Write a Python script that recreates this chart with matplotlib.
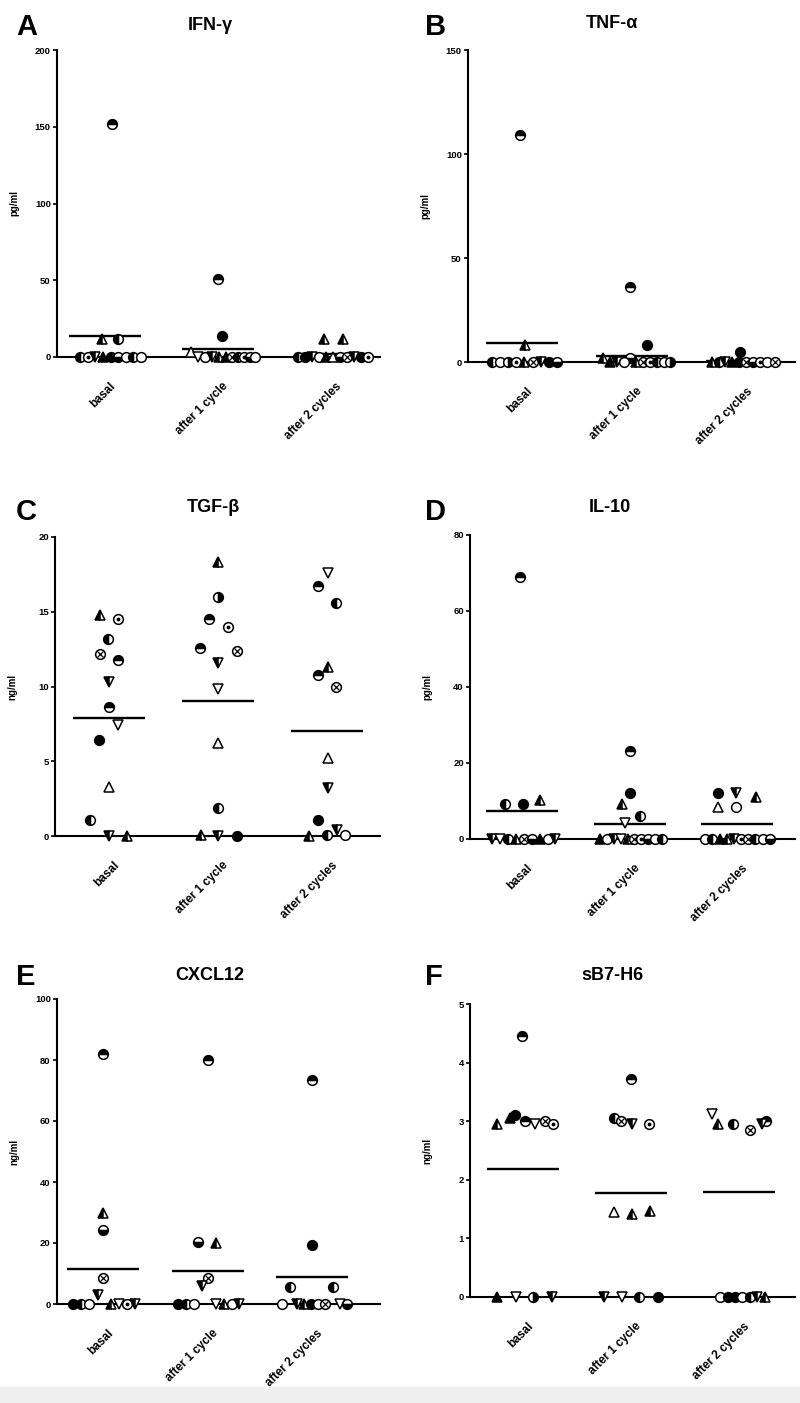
import matplotlib
matplotlib.use("Agg")
import matplotlib.pyplot as plt
from matplotlib.patches import Rectangle

plt.rcParams['font.family'] = ['Liberation Sans', 'DejaVu Sans']
plt.rcParams['font.weight'] = 'bold'

# ---------------- data ----------------
groups = ["basal", "after 1 cycle", "after 2 cycles"]

# A  IFN-gamma (pg/ml)
ifn_basal = [152, 12, 12, 0, 0, 0, 0, 0, 0, 0, 0, 0]
ifn_c1 = [51, 14, 3, 0, 0, 0, 0, 0, 0, 0, 0, 0, 0]
ifn_c2 = [12, 12, 0, 0, 0, 0, 0, 0, 0, 0, 0, 0, 0]
ifn_means = [14, 5, 2]

# B  TNF-alpha (pg/ml)
tnf_basal = [109, 8, 0, 0, 0, 0, 0, 0, 0, 0, 0]
tnf_c1 = [36, 8, 2, 2, 0, 0, 0, 0, 0, 0, 0, 0, 0]
tnf_c2 = [5, 0, 0, 0, 0, 0, 0, 0, 0, 0, 0]
tnf_means = [9, 3, 0.5]

# C  TGF-beta (ng/ml)
tgf_basal = [14.8, 14.5, 13.2, 12.2, 11.8, 10.3, 8.6, 7.4, 6.4, 3.3, 1.1, 0, 0]
tgf_c1 = [18.3, 16.0, 14.5, 14.0, 12.6, 12.4, 11.6, 9.8, 6.2, 1.9, 0.1, 0, 0]
tgf_c2 = [17.6, 16.7, 15.6, 11.3, 10.8, 10.0, 5.2, 3.2, 1.1, 0, 0.1, 0.4, 0.1]
tgf_means = [7.9, 9.0, 7.0]

# D  IL-10 (pg/ml)
il10_basal = [69, 9.1, 9.1, 10.2, 0, 0, 0, 0, 0, 0, 0, 0, 0]
il10_c1 = [23.2, 12.0, 9.1, 6.1, 4.1, 0, 0, 0, 0, 0, 0, 0, 0, 0, 0]
il10_c2 = [12.0, 12.1, 11.0, 8.4, 8.4, 0, 0, 0, 0, 0, 0, 0, 0, 0, 0]
il10_means = [7.4, 3.9, 3.9]

# E  CXCL12 (ng/ml)
cxcl_basal = [82, 29.8, 24.2, 8.4, 3, 0, 0, 0, 0, 0, 0, 0]
cxcl_c1 = [80, 20.3, 20, 8.4, 6, 0, 0, 0, 0, 0, 0, 0]
cxcl_c2 = [73.3, 19.2, 5.6, 5.6, 0, 0, 0, 0, 0, 0, 0, 0]
cxcl_means = [11.6, 10.8, 8.7]

# F  sB7-H6 (ng/ml)
sb7_basal = [4.45, 2.95, 3.05, 3.1, 3.0, 2.95, 3.0, 2.95, 0, 0, 0, 0]
sb7_c1 = [3.72, 3.05, 3.0, 2.95, 2.95, 1.45, 1.42, 1.47, 0, 0, 0, 0]
sb7_c2 = [3.12, 2.95, 2.95, 2.85, 3.0, 2.95, 0, 0, 0, 0, 0, 0, 0]
sb7_means = [2.18, 1.78, 1.80]

# ---------------- symbols (style) ----------------
ifn_sym = [['ht', 'A', 'hl', 'hl', 'd', 'V', 'T', 'f', 'hb', 'o', 'hl', 'o'],
           ['ht', 'f', '^', 'v', 'o', 'V', 'A', 'T', 'x', 'hl', 'd', 'hb', 'o'],
           ['A', 'A', 'hl', 'f', 'V', 'o', 'T', '^', 'hb', 'x', 'V', 'f', 'd']]
tnf_sym = [['ht', 'A', 'hl', 'o', 'hr', 'd', 'A', 'x', 'V', 'f', 'hb'],
           ['ht', 'f', 'A', 'hb', 'T', 'V', 'o', 'A', 'x', 'd', 'hl', 'o', 'hr'],
           ['f', 'A', 'hl', 'V', 'T', 'f', 'x', 'hb', 'd', 'o', 'x']]
tgf_sym = [['A', 'd', 'hl', 'x', 'ht', 'V', 'ht', 'v', 'f', '^', 'hl', 'V', 'A'],
           ['A', 'hr', 'ht', 'd', 'ht', 'x', 'V', 'v', '^', 'hl', 'A', 'V', 'f'],
           ['v', 'ht', 'hl', 'A', 'ht', 'x', '^', 'V', 'f', 'A', 'hl', 'V', 'o']]
il10_sym = [['ht', 'hl', 'f', 'A', 'V', 'v', 'hl', 'A', 'x', 'hb', 'T', 'o', 'V'],
            ['ht', 'f', 'A', 'hl', 'v', 'T', 'o', 'V', 'v', 'A', 'x', 'd', 'hb', 'o', 'hl'],
            ['f', 'V', 'A', '^', 'o', 'o', 'hl', 'T', 'A', 'V', 'd', 'x', 'hl', 'o', 'hb']]
cxcl_sym = [['ht', 'A', 'hb', 'x', 'V', 'f', 'hl', 'o', 'A', 'v', 'd', 'V'],
            ['ht', 'hb', 'A', 'x', 'V', 'f', 'hl', 'o', 'v', 'A', 'o', 'V'],
            ['ht', 'f', 'hl', 'hl', 'o', 'V', 'A', 'f', 'o', 'x', 'v', 'hb']]
sb7_sym = [['ht', 'A', 'T', 'f', 'ht', 'v', 'x', 'd', 'T', 'v', 'hr', 'V'],
           ['ht', 'hl', 'x', 'V', 'd', '^', 'A', 'A', 'V', 'v', 'hl', 'f'],
           ['v', 'A', 'hl', 'x', 'ht', 'V', 'o', 'f', 'f', 'o', 'hl', 'V', 'A']]

# ---------------- horizontal jitter (layout, px) ----------------
ifn_off = [[7, -3, 13, -25, -17, -10, -2, 6, 13, 21, 28, 36],
           [0, 4, -27, -20, -13, -6, 1, 8, 14, 20, 26, 32, 37],
           [-7, 12, -33, -26, -19, -12, -5, 2, 9, 16, 23, 30, 37]]
tnf_off = [[-2, 3, -30, -22, -14, -6, 2, 11, 19, 27, 35],
           [-2, 15, -29, -2, -22, -15, -8, 4, 11, 18, 25, 32, 38],
           [-2, -30, -23, -17, -10, -3, 4, 11, 18, 25, 33]]
tgf_off = [[-9, 9, -1, -9, 9, 0, 0, 9, -10, 0, -19, 0, 18],
           [0, 0, -9, 10, -18, 19, 0, 0, 0, 0, -17, 0, 19],
           [1, -9, 9, 1, -9, 9, 1, 1, -9, -18, 0, 10, 18]]
il10_off = [[-2, -17, 1, 18, -30, -22, -14, -6, 2, 10, 18, 26, 33],
            [0, 0, -8, 10, -5, -30, -23, -16, -9, -2, 4, 11, 18, 25, 32],
            [-19, -1, 19, -19, -1, -32, -25, -17, -10, -3, 4, 11, 18, 26, 33]]
cxcl_off = [[0, 0, 0, 0, -5, -30, -22, -14, 8, 16, 24, 32],
            [0, -10, 9, 0, -6, -30, -22, -14, 8, 16, 24, 32],
            [0, 0, -22, 21, -30, -15, -8, -1, 6, 13, 28, 35]]
sb7_off = [[-1, -26, -13, -8, 2, 12, 22, 30, -26, -7, 10, 29],
           [0, -17, -10, 1, 18, -17, 1, 19, -27, -9, 8, 27],
           [-27, -21, -6, 11, 27, 23, -19, -11, -4, 3, 11, 18, 26]]

# ---------------- layout ----------------
W, H = 800, 1403
panels = [
    dict(vals=[ifn_basal, ifn_c1, ifn_c2], sym=ifn_sym, off=ifn_off, means=ifn_means,
         box=(57, 50, 380, 357), c1=105, sp=113, ymax=200, yt=[0, 50, 100, 150, 200],
         ylab="pg/ml", title="IFN-γ", letter="A", txy=(210, 25), lxy=(16, 35)),
    dict(vals=[tnf_basal, tnf_c1, tnf_c2], sym=tnf_sym, off=tnf_off, means=tnf_means,
         box=(468, 50, 795, 362), c1=522, sp=110, ymax=150, yt=[0, 50, 100, 150],
         ylab="pg/ml", title="TNF-α", letter="B", txy=(612, 23), lxy=(425, 35)),
    dict(vals=[tgf_basal, tgf_c1, tgf_c2], sym=tgf_sym, off=tgf_off, means=tgf_means,
         box=(55, 537, 380, 836), c1=109, sp=109, ymax=20, yt=[0, 5, 10, 15, 20],
         ylab="ng/ml", title="TGF-β", letter="C", txy=(213, 508), lxy=(16, 520)),
    dict(vals=[il10_basal, il10_c1, il10_c2], sym=il10_sym, off=il10_off, means=il10_means,
         box=(470, 535, 795, 839), c1=522, sp=107.5, ymax=80, yt=[0, 20, 40, 60, 80],
         ylab="pg/ml", title="IL-10", letter="D", txy=(610, 508), lxy=(425, 520)),
    dict(vals=[cxcl_basal, cxcl_c1, cxcl_c2], sym=cxcl_sym, off=cxcl_off, means=cxcl_means,
         box=(57, 999, 380, 1304), c1=103, sp=104.5, ymax=100, yt=[0, 20, 40, 60, 80, 100],
         ylab="ng/ml", title="CXCL12", letter="E", txy=(210, 975), lxy=(16, 985)),
    dict(vals=[sb7_basal, sb7_c1, sb7_c2], sym=sb7_sym, off=sb7_off, means=sb7_means,
         box=(470, 1004, 795, 1297), c1=523, sp=108, ymax=5, yt=[0, 1, 2, 3, 4, 5],
         ylab="ng/ml", title="sB7-H6", letter="F", txy=(612, 975), lxy=(425, 985)),
]

MS = 7.0


def draw_marker(ax, x, y, code):
    kw = dict(ls='none', ms=MS, mec='black', mew=1.1, clip_on=False, zorder=3)
    if code == 'o':
        ax.plot(x, y, 'o', mfc='white', **kw)
    elif code == 'f':
        ax.plot(x, y, 'o', mfc='black', **kw)
    elif code in ('ht', 'hb', 'hl', 'hr'):
        fs = {'ht': 'top', 'hb': 'bottom', 'hl': 'left', 'hr': 'right'}[code]
        ax.plot(x, y, 'o', fillstyle=fs, mfc='black', markerfacecoloralt='white', **kw)
    elif code == 'x':
        ax.plot(x, y, 'o', mfc='white', **kw)
        ax.plot(x, y, 'x', ms=MS * 0.6, mec='black', mew=0.9, ls='none', clip_on=False, zorder=4)
    elif code == 'd':
        ax.plot(x, y, 'o', mfc='white', **kw)
        ax.plot(x, y, 'o', ms=1.8, mfc='black', mec='black', ls='none', clip_on=False, zorder=4)
    elif code == '^':
        ax.plot(x, y, '^', mfc='white', **kw)
    elif code == 'A':
        ax.plot(x, y, '^', fillstyle='left', mfc='black', markerfacecoloralt='white', **kw)
    elif code == 'T':
        ax.plot(x, y, '^', mfc='black', **kw)
    elif code == 'v':
        ax.plot(x, y, 'v', mfc='white', **kw)
    elif code == 'V':
        ax.plot(x, y, 'v', fillstyle='left', mfc='black', markerfacecoloralt='white', **kw)


fig = plt.figure(figsize=(W / 100, H / 100), dpi=100)
fig.patches.append(Rectangle((0, 0), 1, 16 / H, transform=fig.transFigure,
                             color='#efefef', zorder=0))

for p in panels:
    l, t, r, b = p['box']
    ax = fig.add_axes([l / W, 1 - b / H, (r - l) / W, (b - t) / H])
    sp = p['sp']
    x0 = 1 - (p['c1'] - l) / sp
    ax.set_xlim(x0, x0 + (r - l) / sp)
    ax.set_ylim(0, p['ymax'])
    for gi, (vals, syms, offs) in enumerate(zip(p['vals'], p['sym'], p['off'])):
        cx = gi + 1
        for v, s, o in zip(vals, syms, offs):
            draw_marker(ax, cx + o / sp, v, s)
        half = 36 / sp
        ax.hlines(p['means'][gi], cx - half, cx + half, color='black', lw=1.7, zorder=2)
    ax.spines['top'].set_visible(False)
    ax.spines['right'].set_visible(False)
    ax.spines['left'].set_linewidth(1.5)
    ax.spines['bottom'].set_linewidth(1.5)
    ax.set_yticks(p['yt'])
    ax.set_yticklabels([str(v) for v in p['yt']], fontsize=6.8, fontweight='bold')
    ax.tick_params(axis='y', direction='out', length=3, width=1.2, pad=1.5)
    ax.set_xticks([])
    ax.set_ylabel(p['ylab'], fontsize=7, fontweight='bold')
    ax.yaxis.set_label_coords(-38 / (r - l), 0.5)
    for gi, g in enumerate(groups):
        ax.annotate(g, xy=(gi + 1, 0), xycoords=('data', 'axes fraction'),
                    xytext=(6, -20), textcoords='offset points',
                    rotation=45, ha='right', va='center', rotation_mode='anchor',
                    fontsize=8.5, fontweight='bold')
    fig.text(p['txy'][0] / W, 1 - p['txy'][1] / H, p['title'], ha='center', va='center',
             fontsize=13, fontweight='bold')
    fig.text(p['lxy'][0] / W, 1 - p['lxy'][1] / H, p['letter'], ha='left', va='baseline',
             fontsize=21, fontweight='bold')

fig.savefig("out.png", dpi=100)
